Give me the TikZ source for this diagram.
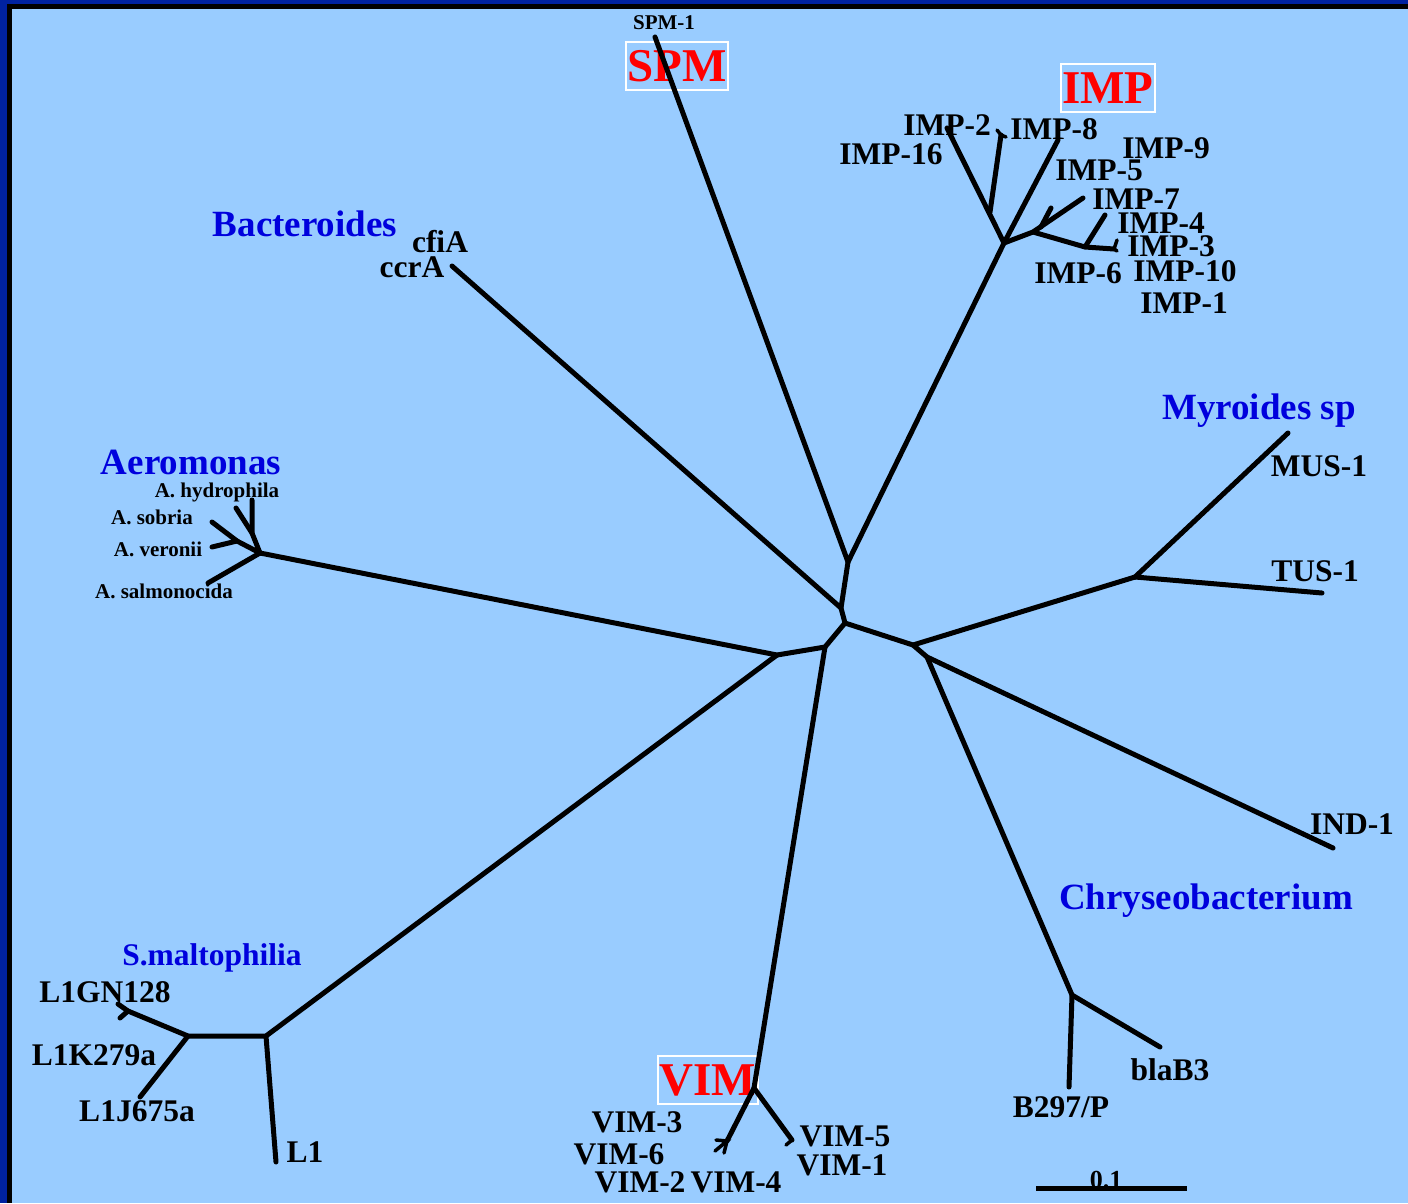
\documentclass[tikz,border=0pt]{standalone}
\usepackage{fontspec}
\setmainfont{Liberation Serif}
\definecolor{skyback}{HTML}{99CCFF}
\definecolor{frameblue}{HTML}{0022A0}
\definecolor{cladeblue}{HTML}{0000DD}

\begin{document}
\begin{tikzpicture}[
    x=1pt, y=-1pt,
    branch/.style={line width=5pt, line cap=round, line join=round},
    twig/.style={line width=3.5pt, line cap=round},
    leaf/.style={font=\fontsize{31.5}{33}\selectfont\bfseries, inner sep=0pt,
        text height=20.5pt, text depth=0pt},
    small/.style={leaf, font=\fontsize{21}{23}\selectfont\bfseries,
        text height=13.5pt},
    genus/.style={leaf, font=\fontsize{37}{39}\selectfont\bfseries,
        text height=24pt, text=cladeblue},
    family/.style={draw=white, line width=2pt, text=red, inner sep=0pt,
        font=\fontsize{47}{49}\selectfont\bfseries, minimum height=48pt,
        text height=31pt, text depth=0pt},
]
    % Frame and background
    \fill[frameblue] (0,0) rectangle (1408,1203);
    \fill[black] (7,4) rectangle (1408,1203);
    \fill[skyback] (12,9) rectangle (1408,1203);
    \useasboundingbox (0,0) rectangle (1408,1203);

    % Inner nodes of the tree
    \foreach \x/\y/\name in {
        848/562/nA, 841/608/nB, 845/623/nC, 913/645/nD, 825/647/nE,
        777/655/nF, 927/657/nG, 1004/243/nI1, 990/212/nI2, 1001/135/nI8,
        1033/232/nI3, 1041/227/nI7, 1085/247/nI4, 1114/249/nI10,
        1135/577/nMy, 1072/995/nCh, 754/1088/nV1, 727/1141/nV2, 792/1140/nV3,
        266/1036/nS1, 188/1036/nS2, 128/1011/nS3,
        260/553/nAe1, 237/541/nAe2, 252/533/nAe3}
    {
        \coordinate (\name) at (\x, \y);
    }

    % Tips of the tree
    \foreach \x/\y/\name in {
        655/37/tSPM, 452/266/tBac, 947/128/tI2, 1058/140/tI5, 1083/198/tI7,
        1051/208/tI9, 1105/215/tI4, 997/130/tI8a, 1006/137/tI8b,
        1117/240/tI3, 1117/251/tI10, 1288/433/tMUS, 1322/593/tTUS,
        1333/848/tIND, 1160/1047/tBla, 1069/1087/tB297,
        716/1140/tV3, 715/1151/tV6, 724/1153/tV2, 786/1145/tV5,
        276/1162/tL1, 118/1004/tGN, 120/1018/tK, 140/1097/tJ,
        208/583/tSal, 212/522/tSob, 212/547/tVer, 252/500/tHyd, 236/508/tAe}
    {
        \coordinate (\name) at (\x, \y);
    }

    % Family boxes
    \node[family, minimum width=102pt] (spm) at (677,66) {SPM};
    \node[family, minimum width=94pt] (imp) at (1108,88) {IMP};
    \node[family, minimum width=100pt] (vim) at (708,1080) {VIM};

    % Branches
    \draw[branch] (tSPM) -- (nA) -- (nI1);
    \draw[branch] (nA) -- (nB) -- (nC) -- (nD) -- (nMy);
    \draw[branch] (tBac) -- (nB);
    \draw[branch] (nC) -- (nE) -- (nF) -- (nAe1);
    \draw[branch] (nE) -- (nV1) -- (nV2);
    \draw[branch] (nV1) -- (nV3);
    \draw[branch] (nF) -- (nS1) -- (nS2) -- (nS3) -- (tGN);
    \draw[branch] (nS1) -- (tL1);
    \draw[branch] (nS2) -- (tJ);
    \draw[branch] (nS3) -- (tK);
    \draw[branch] (nD) -- (nG) -- (tIND);
    \draw[branch] (nG) -- (nCh) -- (tBla);
    \draw[branch] (nCh) -- (tB297);
    \draw[branch] (nMy) -- (tMUS);
    \draw[branch] (nMy) -- (tTUS);
    \draw[branch] (nI1) -- (tI2);
    \draw[branch] (nI2) -- (nI8);
    \draw[branch] (nI1) -- (tI5);
    \draw[branch] (nI1) -- (nI3) -- (tI7);
    \draw[branch] (nI7) -- (tI9);
    \draw[branch] (nI3) -- (nI4) -- (tI4);
    \draw[branch] (nI4) -- (nI10);
    \draw[branch] (nAe1) -- (tSal);
    \draw[branch] (nAe1) -- (nAe2) -- (tSob);
    \draw[branch] (nAe2) -- (tVer);
    \draw[branch] (nAe1) -- (nAe3) -- (tHyd);
    \draw[branch] (nAe3) -- (tAe);

    % Short twigs at the tips
    \draw[twig] (tI8a) -- (nI8) -- (tI8b);
    \draw[twig] (tI3) -- (nI10) -- (tI10);
    \draw[twig] (tV3) -- (nV2) -- (tV6);
    \draw[twig] (nV2) -- (tV2);
    \draw[twig] (nV3) -- (tV5);

    % Scale bar
    \coordinate (sbL) at (1036,1188);
    \coordinate (sbR) at (1187,1188);
    \draw[branch, line cap=butt] (sbL) -- (sbR);
    \node[leaf, font=\fontsize{26}{28}\selectfont\bfseries, text height=17pt]
        (sbLabel) at (1106,1180) {0.1};

    % Group names
    \node[genus] (bacteroides) at (305,224) {Bacteroides};
    \node[genus] (aeromonas) at (191,462) {Aeromonas};
    \node[genus] (myroides) at (1259,407) {Myroides sp};
    \node[genus] (chryseo) at (1206,897) {Chryseobacterium};
    \node[genus, font=\fontsize{31.5}{33}\selectfont\bfseries, text height=21pt]
        (smalto) at (212,955) {S.maltophilia};

    % Leaf labels
    \node[small] (lSPM) at (664,23) {SPM-1};
    \foreach \x/\y/\name/\txt in {
        947/125/lI2/IMP-2, 1054/129/lI8/IMP-8, 891/154/lI16/IMP-16,
        1166/148/lI9/IMP-9, 1099/170/lI5/IMP-5, 1136/199/lI7/IMP-7,
        1161/223/lI4/IMP-4, 1171/246/lI3/IMP-3, 1185/271/lI10/IMP-10,
        1078/273/lI6/IMP-6, 1184/303/lI1/IMP-1,
        440/242/lCfi/cfiA, 412/267/lCcr/ccrA,
        1319/466/lMUS/MUS-1, 1315/571/lTUS/TUS-1, 1352/824/lIND/IND-1,
        1170/1070/lBla/blaB3, 1061/1107/lB297/{B297/P},
        105/992/lGN/L1GN128, 94/1055/lK/L1K279a, 137/1111/lJ/L1J675a,
        305/1152/lL1/L1,
        637/1122/lV3/VIM-3, 619/1154/lV6/VIM-6, 640/1182/lV2/VIM-2,
        736/1182/lV4/VIM-4, 845/1136/lV5/VIM-5, 842/1165/lV1/VIM-1}
    {
        \node[leaf] (\name) at (\x, \y) {\txt};
    }
    \foreach \x/\y/\name/\txt in {
        217/491/lHyd/A. hydrophila, 152/518/lSob/A. sobria,
        158/550/lVer/A. veronii, 164/592/lSal/A. salmonocida}
    {
        \node[small] (\name) at (\x, \y) {\txt};
    }
\end{tikzpicture}
\end{document}
